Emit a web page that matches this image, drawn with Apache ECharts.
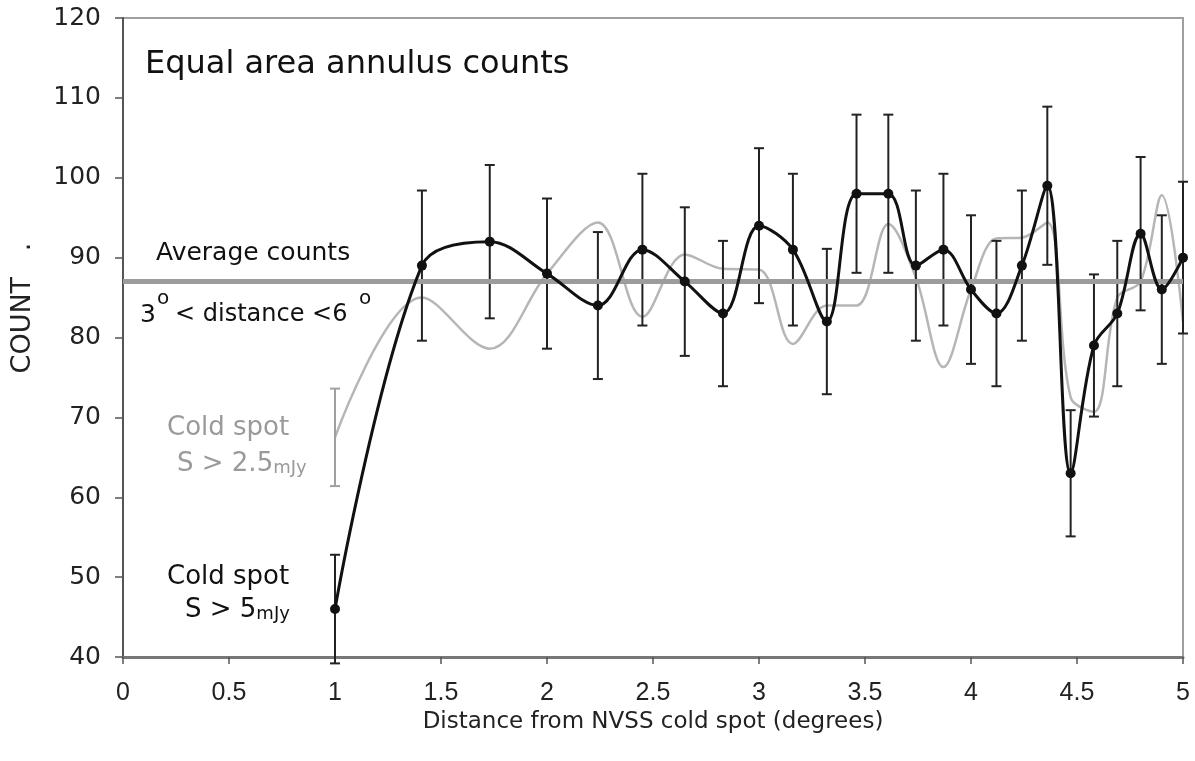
<!DOCTYPE html>
<html>
<head>
<meta charset="utf-8">
<script src="https://cdn.jsdelivr.net/npm/echarts@6/dist/echarts.min.js"></script>
<style>
  html, body { margin: 0; padding: 0; background: #fff; }
  #chart { width: 1195px; height: 761px; }
</style>
</head>
<body>
<div id="chart"></div>
<script>
// annulus radii (degrees)
const distances = [1, 1.41, 1.73, 2, 2.24, 2.45, 2.65, 2.83, 3, 3.16, 3.32, 3.46, 3.61, 3.74, 3.87, 4, 4.12, 4.24, 4.36, 4.47, 4.58, 4.69, 4.8, 4.9, 5]
// S > 5mJy counts (black) and their error half-widths
const countsBright = [46, 89, 92, 88, 84, 91, 87, 83, 94, 91, 82, 98, 98, 89, 91, 86, 83, 89, 99, 63, 79, 83, 93, 86, 90]
const errorsBright = [6.8, 9.4, 9.6, 9.4, 9.2, 9.5, 9.3, 9.1, 9.7, 9.5, 9.1, 9.9, 9.9, 9.4, 9.5, 9.3, 9.1, 9.4, 9.9, 7.9, 8.9, 9.1, 9.6, 9.3, 9.5]
// S > 2.5mJy counts (grey), only the first point has an error bar
const countsFaint = [67.5, 85, 78.6, 88, 94.4, 82.6, 90.4, 88.6, 88.5, 79.2, 84, 84, 94.2, 87.5, 76.3, 86, 92.4, 92.5, 94.4, 72.5, 70.7, 85, 87, 97.8, 82]
const errorsFaint = [6.1]
const averageCount = 87
const xTicks = { min: 0, max: 5, interval: 0.5 }
const yTicks = { min: 40, max: 120, interval: 10 }

const font = 'DejaVu Sans'

let brightPoints = distances.map((d, i) => [d, countsBright[i]])
let faintPoints = distances.map((d, i) => [d, countsFaint[i]])
let brightBars = distances.map((d, i) => [d, countsBright[i] - errorsBright[i], countsBright[i] + errorsBright[i]])
let faintBars = errorsFaint.map((e, i) => [distances[i], countsFaint[i] - e, countsFaint[i] + e])

// 误差棒
const errorBar = (color) => (params, api) => {
    let x = api.value(0)
    let lo = api.coord([x, api.value(1)])
    let hi = api.coord([x, api.value(2)])
    let w = 5
    let style = { stroke: color, lineWidth: 2 }
    return {
        type: 'group',
        children: [
            { type: 'line', shape: { x1: lo[0], y1: lo[1], x2: hi[0], y2: hi[1] }, style },
            { type: 'line', shape: { x1: lo[0] - w, y1: lo[1], x2: lo[0] + w, y2: lo[1] }, style },
            { type: 'line', shape: { x1: hi[0] - w, y1: hi[1], x2: hi[0] + w, y2: hi[1] }, style }
        ]
    }
}

let myChart = echarts.init(document.getElementById('chart'))
myChart.setOption({
    animation: false,
    backgroundColor: '#fff',
    grid: {
        left: 123,
        right: 12,
        top: 18,
        bottom: 104,
        show: true,
        borderColor: '#a0a0a0',
        borderWidth: 2
    },
    xAxis: {
        type: 'value',
        min: xTicks.min,
        max: xTicks.max,
        interval: xTicks.interval,
        name: 'Distance from NVSS cold spot (degrees)',
        nameLocation: 'middle',
        nameGap: 48,
        nameTextStyle: { fontFamily: font, fontSize: 23, color: '#222' },
        axisLine: { onZero: false, lineStyle: { color: '#777', width: 3 } },
        axisTick: { length: 7, lineStyle: { color: '#555', width: 1.5 } },
        axisLabel: { margin: 24, fontFamily: 'Liberation Sans', fontSize: 25, color: '#222' },
        splitLine: { show: false }
    },
    yAxis: {
        type: 'value',
        min: yTicks.min,
        max: yTicks.max,
        interval: yTicks.interval,
        axisLine: { show: true, lineStyle: { color: '#555', width: 2 } },
        axisTick: { show: true, length: 8, lineStyle: { color: '#555', width: 1.5 } },
        axisLabel: { margin: 22, fontFamily: font, fontSize: 25, color: '#222' },
        splitLine: { show: false }
    },
    graphic: [
        { type: 'text', x: 145, y: 65, style: { text: 'Equal area annulus counts', fontFamily: font, fontSize: 32, fill: '#111', verticalAlign: 'middle' } },
        { type: 'text', x: 156, y: 253, style: { text: 'Average counts', fontFamily: font, fontSize: 25, fill: '#111', verticalAlign: 'middle' } },
        { type: 'text', x: 140, y: 315, style: { text: '3', fontFamily: font, fontSize: 25, fill: '#111', verticalAlign: 'middle' } },
        { type: 'text', x: 157, y: 299, style: { text: 'o', fontFamily: font, fontSize: 20, fill: '#111', verticalAlign: 'middle' } },
        { type: 'text', x: 175, y: 315, style: { text: '< distance <6', fontFamily: font, fontSize: 24, fill: '#111', verticalAlign: 'middle' } },
        { type: 'text', x: 359, y: 299, style: { text: 'o', fontFamily: font, fontSize: 20, fill: '#111', verticalAlign: 'middle' } },
        { type: 'text', x: 167, y: 428, style: { text: 'Cold spot', fontFamily: font, fontSize: 26, fill: '#9a9a9a', verticalAlign: 'middle' } },
        {
            type: 'text', x: 177, y: 477,
            style: {
                text: '{a|S > 2.5}{b|mJy}', fill: '#9a9a9a', verticalAlign: 'bottom',
                rich: {
                    a: { fontFamily: font, fontSize: 26, fill: '#9a9a9a', verticalAlign: 'bottom' },
                    b: { fontFamily: font, fontSize: 18, fill: '#9a9a9a', verticalAlign: 'bottom' }
                }
            }
        },
        { type: 'text', x: 167, y: 577, style: { text: 'Cold spot', fontFamily: font, fontSize: 26, fill: '#111', verticalAlign: 'middle' } },
        {
            type: 'text', x: 185, y: 623,
            style: {
                text: '{a|S > 5}{b|mJy}', fill: '#111', verticalAlign: 'bottom',
                rich: {
                    a: { fontFamily: font, fontSize: 26, fill: '#111', verticalAlign: 'bottom' },
                    b: { fontFamily: font, fontSize: 18, fill: '#111', verticalAlign: 'bottom' }
                }
            }
        },
        { type: 'text', x: 23, y: 308, rotation: Math.PI / 2, style: { text: 'COUNT   .', fontFamily: font, fontSize: 27, fill: '#222', align: 'center', verticalAlign: 'middle' } }
    ],
    series: [
        {
            name: 'S > 2.5mJy',
            type: 'line',
            data: faintPoints,
            smooth: 0.35,
            symbol: 'none',
            lineStyle: { color: '#b6b6b6', width: 2.5 },
            z: 2
        },
        {
            name: 'S > 2.5mJy error',
            type: 'custom',
            data: faintBars,
            renderItem: errorBar('#a0a0a0'),
            z: 3
        },
        {
            name: 'S > 5mJy error',
            type: 'custom',
            data: brightBars,
            renderItem: errorBar('#222'),
            z: 3
        },
        {
            name: 'Average',
            type: 'line',
            data: [],
            markLine: {
                silent: true,
                symbol: 'none',
                label: { show: false },
                lineStyle: { color: '#9c9c9c', width: 5, type: 'solid' },
                data: [{ yAxis: averageCount }]
            },
            z: 4
        },
        {
            name: 'S > 5mJy',
            type: 'line',
            data: brightPoints,
            smooth: 0.35,
            symbol: 'circle',
            symbolSize: 10,
            itemStyle: { color: '#111' },
            lineStyle: { color: '#111', width: 3 },
            z: 5
        }
    ]
})
</script>
</body>
</html>
